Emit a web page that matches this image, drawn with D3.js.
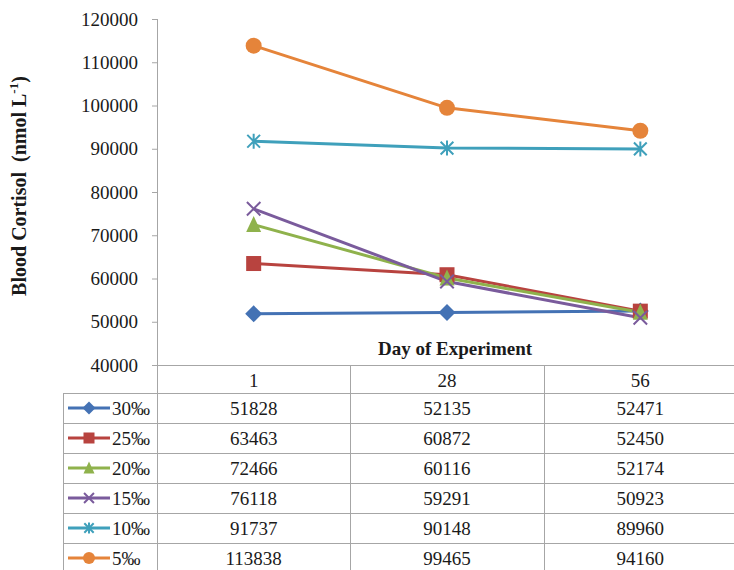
<!DOCTYPE html>
<html>
<head>
<meta charset="utf-8">
<script src="https://cdn.jsdelivr.net/npm/d3@7/dist/d3.min.js"></script>
<style>
  html, body { margin: 0; padding: 0; background: #fff; }
  svg { display: block; }
  text { font-family: "Liberation Serif", "Times New Roman", serif; fill: #1a1a1a; }
</style>
</head>
<body>
<svg id="chart" width="734" height="570"></svg>
<script>
// Sampling days (categories) and salinity groups
const days = ["1", "28", "56"];
const groups = ["30‰", "25‰", "20‰", "15‰", "10‰", "5‰"];

// Blood cortisol per group, one value per sampling day
const s30 = [51828, 52135, 52471];
const s25 = [63463, 60872, 52450];
const s20 = [72466, 60116, 52174];
const s15 = [76118, 59291, 50923];
const s10 = [91737, 90148, 89960];
const s5  = [113838, 99465, 94160];

const yTicks = [40000, 50000, 60000, 70000, 80000, 90000, 100000, 110000, 120000];

const colors  = ["#4472B4", "#B8433F", "#8FB24C", "#7A5B9C", "#3FA0BB", "#E5843A"];
const symbols = ["diamond", "square", "triangle", "x", "asterisk", "circle"];

const series = groups.map((g, i) => ({
  name: g,
  values: [s30, s25, s20, s15, s10, s5][i],
  color: colors[i],
  symbol: symbols[i]
}));

const svg = d3.select("#chart");
const W = 734, H = 570;
const plotLeft = 157, plotRight = 737, plotTop = 19, plotBottom = 365;
const legendLeft = 63, headerBottom = 393, rowH = 30;
const grid = "#a6a6a6";

const x = d3.scaleBand().domain(days).range([plotLeft, plotRight]).padding(0);
const y = d3.scaleLinear().domain([40000, 120000]).range([plotBottom, plotTop]);

// Y axis
const yAxis = svg.append("g")
  .attr("transform", `translate(${plotLeft},0)`)
  .call(d3.axisLeft(y).tickValues(yTicks).tickSize(5).tickPadding(14).tickFormat(d3.format("d")));
yAxis.select(".domain").remove();
yAxis.selectAll(".tick line").attr("stroke", grid);
yAxis.selectAll(".tick text")
  .attr("font-family", "Liberation Serif, serif")
  .attr("font-size", 19)
  .attr("fill", "#1a1a1a");

// Axis titles
const yTitle = svg.append("text")
  .attr("transform", `translate(26,${(plotTop + plotBottom) / 2 - 6}) rotate(-90)`)
  .attr("text-anchor", "middle")
  .attr("font-weight", "bold")
  .attr("font-size", 20)
  .style("white-space", "pre");
yTitle.append("tspan").text("Blood Cortisol  (nmol L");
yTitle.append("tspan").attr("dy", -8).attr("font-size", 13).text("-1");
yTitle.append("tspan").attr("dy", 8).text(")");

svg.append("text")
  .attr("x", 455).attr("y", 355)
  .attr("text-anchor", "middle")
  .attr("font-weight", "bold")
  .attr("font-size", 19)
  .text("Day of Experiment");

// Frame lines: vertical axis and data table grid
const g = svg.append("g").attr("stroke", grid).attr("stroke-width", 1).attr("shape-rendering", "crispEdges");
g.append("line").attr("x1", plotLeft + 0.5).attr("x2", plotLeft + 0.5).attr("y1", plotTop).attr("y2", H);
g.append("line").attr("x1", plotLeft - 5).attr("x2", W).attr("y1", plotBottom + 0.5).attr("y2", plotBottom + 0.5);
days.slice(1).forEach(d => {
  g.append("line").attr("x1", x(d) + 0.5).attr("x2", x(d) + 0.5).attr("y1", plotBottom).attr("y2", H);
});
g.append("line").attr("x1", legendLeft + 0.5).attr("x2", legendLeft + 0.5).attr("y1", headerBottom).attr("y2", H);
series.forEach((s, i) => {
  const yy = headerBottom + i * rowH + 0.5;
  g.append("line").attr("x1", legendLeft).attr("x2", W).attr("y1", yy).attr("y2", yy);
});

// Header row: day labels
svg.append("g").selectAll("text").data(days).join("text")
  .attr("x", d => x(d) + x.bandwidth() / 2)
  .attr("y", plotBottom + 22)
  .attr("text-anchor", "middle")
  .attr("font-size", 19)
  .text(d => d);

// Marker drawing
function marker(sel, type, color, size) {
  const r = size / 2;
  if (type === "diamond") {
    sel.append("path").attr("d", `M0,${-r - 1}L${r + 1},0L0,${r + 1}L${-r - 1},0Z`).attr("fill", color);
  } else if (type === "square") {
    sel.append("rect").attr("x", -r).attr("y", -r).attr("width", size).attr("height", size).attr("fill", color);
  } else if (type === "triangle") {
    sel.append("path").attr("d", `M0,${-r - 1}L${r},${r}L${-r},${r}Z`).attr("fill", color);
  } else if (type === "circle") {
    sel.append("circle").attr("r", r + 0.5).attr("fill", color);
  } else if (type === "x") {
    const q = r * 0.9;
    sel.append("path").attr("d", `M${-q},${-q}L${q},${q}M${-q},${q}L${q},${-q}`)
      .attr("stroke", color).attr("stroke-width", 2).attr("fill", "none");
  } else if (type === "asterisk") {
    const q = r * 0.85;
    sel.append("path").attr("d", `M${-q},${-q}L${q},${q}M${-q},${q}L${q},${-q}M0,${-r}L0,${r}`)
      .attr("stroke", color).attr("stroke-width", 2).attr("fill", "none");
  }
}

// Lines and markers
const line = d3.line().x((d, i) => x(days[i]) + x.bandwidth() / 2).y(d => y(d));
const plot = svg.append("g");
series.forEach(s => {
  plot.append("path").attr("d", line(s.values))
    .attr("fill", "none").attr("stroke", s.color).attr("stroke-width", 3).attr("stroke-linejoin", "round");
});
series.forEach(s => {
  s.values.forEach((v, i) => {
    const m = plot.append("g").attr("transform", `translate(${x(days[i]) + x.bandwidth() / 2},${y(v)})`);
    marker(m, s.symbol, s.color, 15);
  });
});

// Table rows: legend keys and values
series.forEach((s, i) => {
  const cy = headerBottom + i * rowH + rowH / 2;
  const row = svg.append("g");
  row.append("line").attr("x1", 68).attr("x2", 110).attr("y1", cy).attr("y2", cy)
    .attr("stroke", s.color).attr("stroke-width", 3);
  const m = row.append("g").attr("transform", `translate(89,${cy})`);
  marker(m, s.symbol, s.color, 11);
  row.append("text").attr("x", 112).attr("y", cy + 7).attr("font-size", 19).text(s.name);
  s.values.forEach((v, j) => {
    row.append("text")
      .attr("x", x(days[j]) + x.bandwidth() / 2)
      .attr("y", cy + 7)
      .attr("text-anchor", "middle")
      .attr("font-size", 19)
      .text(v);
  });
});
</script>
</body>
</html>
